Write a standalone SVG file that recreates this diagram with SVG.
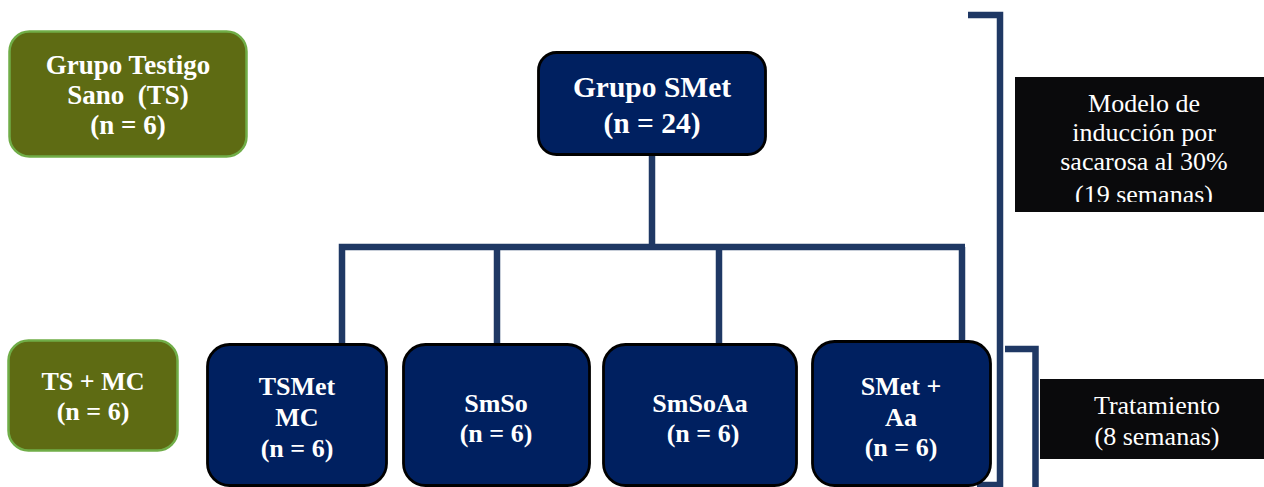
<svg xmlns="http://www.w3.org/2000/svg" width="1264" height="487" viewBox="0 0 1264 487">
<defs>
<style>
.green{fill:#5e6b13;stroke:#70ad47;stroke-width:2.5}
.navy{fill:#002060;stroke:#000;stroke-width:2.8}
.blk{fill:#0a0a0c}
.bt{font-family:'Liberation Serif','Times New Roman',serif;font-weight:bold;fill:#fff;text-anchor:middle}
.rt{font-family:'Liberation Serif','Times New Roman',serif;fill:#fff;text-anchor:middle;font-size:26px}
.conn{fill:none;stroke:#1f3864;stroke-width:6.5;stroke-linejoin:miter}
</style>
<clipPath id="clipModel"><rect x="1015" y="77" width="249" height="125"/></clipPath>
</defs>
<rect width="1264" height="487" fill="#fff"/>
<g id="connectors">
<path class="conn" d="M652,155 V247"/>
<path class="conn" d="M342,345 V247 H965"/>
<path class="conn" d="M497,247 V345"/>
<path class="conn" d="M719,247 V345"/>
<path class="conn" d="M962,247 V341"/>
<path class="conn" d="M968,15 H1000 V485 H977"/>
<path class="conn" d="M1005,349 H1035.5 V487"/>
</g>
<g id="grupo-testigo">
<rect class="green" x="9.5" y="31.5" width="237" height="125" rx="20"/>
<text class="bt" font-size="27" x="128" y="74">Grupo Testigo</text>
<text class="bt" font-size="27" x="128" y="104" xml:space="preserve">Sano  (TS)</text>
<text class="bt" font-size="27" x="128" y="134">(n = 6)</text>
</g>
<g id="grupo-smet">
<rect class="navy" x="538.5" y="52.5" width="227" height="102" rx="18"/>
<text class="bt" font-size="29.5" x="652" y="97">Grupo SMet</text>
<text class="bt" font-size="29.5" x="652" y="133">(n = 24)</text>
</g>
<g id="modelo">
<rect class="blk" x="1015" y="77" width="249" height="135"/>
<g clip-path="url(#clipModel)">
<text class="rt" x="1144" y="112">Modelo de</text>
<text class="rt" x="1144" y="141">inducción por</text>
<text class="rt" x="1144" y="170">sacarosa al 30%</text>
<text class="rt" x="1144" y="203">(19 semanas)</text>
</g>
</g>
<g id="ts-mc">
<rect class="green" x="8.5" y="340.5" width="169" height="110" rx="20"/>
<text class="bt" font-size="26" x="93" y="390">TS + MC</text>
<text class="bt" font-size="26" x="93" y="420">(n = 6)</text>
</g>
<g id="tsmet-mc">
<rect class="navy" x="207.5" y="344.5" width="179" height="141" rx="22"/>
<text class="bt" font-size="26" x="297" y="395">TSMet</text>
<text class="bt" font-size="26" x="297" y="426">MC</text>
<text class="bt" font-size="26" x="297" y="457">(n = 6)</text>
</g>
<g id="smso">
<rect class="navy" x="403.5" y="344.5" width="186" height="141" rx="22"/>
<text class="bt" font-size="26" x="496" y="412">SmSo</text>
<text class="bt" font-size="26" x="496" y="442">(n = 6)</text>
</g>
<g id="smsoaa">
<rect class="navy" x="603.5" y="344.5" width="193" height="141" rx="22"/>
<text class="bt" font-size="26" x="700" y="412">SmSoAa</text>
<text class="bt" font-size="26" x="703" y="442">(n = 6)</text>
</g>
<g id="smet-aa">
<rect class="navy" x="812.5" y="341.5" width="178" height="144" rx="22"/>
<text class="bt" font-size="26" x="901" y="395">SMet +</text>
<text class="bt" font-size="26" x="901" y="426">Aa</text>
<text class="bt" font-size="26" x="901" y="456">(n = 6)</text>
</g>
<g id="tratamiento">
<rect class="blk" x="1040" y="379" width="224" height="80"/>
<text class="rt" x="1157" y="414">Tratamiento</text>
<text class="rt" x="1157" y="445">(8 semanas)</text>
</g>
</svg>
